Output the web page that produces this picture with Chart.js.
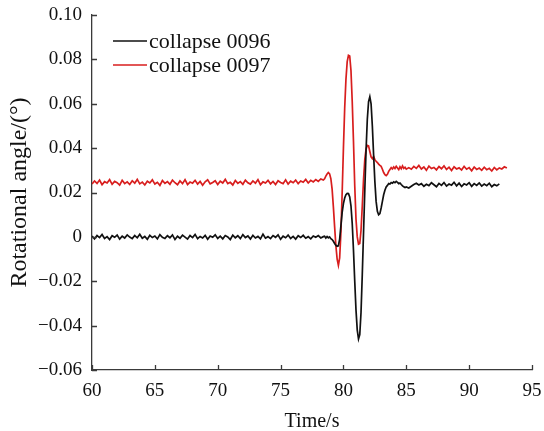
<!DOCTYPE html>
<html>
<head>
<meta charset="utf-8">
<script src="https://cdn.jsdelivr.net/npm/chart.js@4.4.1/dist/chart.umd.min.js"></script>
<style>
  html, body { margin: 0; padding: 0; background: #fff; }
  #wrap { width: 544px; height: 431px; }
</style>
</head>
<body>
<div id="wrap"><canvas id="angleChart"></canvas></div>
<script>
// Time stamps (s), three sampling segments: before, during and after the collapse
var timeA = [60.0, 60.2, 60.4, 60.6, 60.8, 61.0, 61.2, 61.4, 61.6, 61.8,
  62.0, 62.2, 62.4, 62.6, 62.8, 63.0, 63.2, 63.4, 63.6, 63.8,
  64.0, 64.2, 64.4, 64.6, 64.8, 65.0, 65.2, 65.4, 65.6, 65.8,
  66.0, 66.2, 66.4, 66.6, 66.8, 67.0, 67.2, 67.4, 67.6, 67.8,
  68.0, 68.2, 68.4, 68.6, 68.8, 69.0, 69.2, 69.4, 69.6, 69.8,
  70.0, 70.2, 70.4, 70.6, 70.8, 71.0, 71.2, 71.4, 71.6, 71.8,
  72.0, 72.2, 72.4, 72.6, 72.8, 73.0, 73.2, 73.4, 73.6, 73.8,
  74.0, 74.2, 74.4, 74.6, 74.8, 75.0, 75.2, 75.4, 75.6, 75.8,
  76.0, 76.2, 76.4, 76.6, 76.8, 77.0, 77.2, 77.4, 77.6, 77.8,
  78.0, 78.2, 78.4];
var timeB = [78.5, 78.6, 78.7, 78.8, 78.9, 79.0, 79.1, 79.2, 79.3, 79.4,
  79.5, 79.6, 79.7, 79.8, 79.9, 80.0, 80.1, 80.2, 80.3, 80.4,
  80.5, 80.6, 80.7, 80.8, 80.9, 81.0, 81.1, 81.2, 81.3, 81.4,
  81.5, 81.6, 81.7, 81.8, 81.9, 82.0, 82.1, 82.2, 82.3, 82.4,
  82.5, 82.6, 82.7, 82.8, 82.9, 83.0, 83.1, 83.2, 83.3, 83.4,
  83.5, 83.6, 83.7, 83.8, 83.9, 84.0, 84.1, 84.2, 84.3, 84.4,
  84.5, 84.6, 84.7, 84.8, 84.9, 85.0];
var timeC = [85.2, 85.4, 85.6, 85.8, 86.0, 86.2, 86.4, 86.6, 86.8, 87.0,
  87.2, 87.4, 87.6, 87.8, 88.0, 88.2, 88.4, 88.6, 88.8, 89.0,
  89.2, 89.4, 89.6, 89.8, 90.0, 90.2, 90.4, 90.6, 90.8, 91.0,
  91.2, 91.4, 91.6, 91.8, 92.0, 92.2, 92.4, 92.6, 92.8, 93.0];

// collapse 0096 (black)
var black0096A = [0.0004, -0.0009, 0.0006, -0.0003, 0.0011, -0.0007, 0.0001, -0.0012, 0.0005, -0.0002,
  0.0008, -0.0010, 0.0003, -0.0005, 0.0009, -0.0001, -0.0008, 0.0006, -0.0004, 0.0012,
  -0.0006, 0.0002, -0.0011, 0.0007, -0.0003, 0.0004, -0.0009, 0.0010, -0.0002, -0.0007,
  0.0005, -0.0004, 0.0009, -0.0012, 0.0003, -0.0006, 0.0008, -0.0001, -0.0010, 0.0006,
  -0.0003, 0.0011, -0.0008, 0.0002, -0.0005, 0.0007, -0.0011, 0.0004, -0.0002, 0.0009,
  -0.0007, 0.0003, -0.0009, 0.0006, 0.0000, -0.0012, 0.0008, -0.0004, 0.0005, -0.0008,
  0.0010, -0.0003, 0.0004, -0.0010, 0.0007, -0.0005, 0.0002, -0.0009, 0.0012, -0.0006,
  0.0001, -0.0008, 0.0006, -0.0002, 0.0009, -0.0011, 0.0003, -0.0004, 0.0008, -0.0007,
  0.0002, -0.0010, 0.0005, -0.0003, 0.0007, -0.0006, 0.0001, -0.0009, 0.0004, -0.0002,
  0.0006, -0.0005, 0.0001];
var black0096B = [0.0003, -0.0005, 0.0002, -0.0004, 0.0000, -0.0008, -0.0012, -0.0020, -0.0030, -0.0038,
  -0.0042, -0.0040, -0.0010, 0.0050, 0.0110, 0.0150, 0.0175, 0.0190, 0.0196, 0.0195,
  0.0180, 0.0140, 0.0060, -0.0060, -0.0200, -0.0330, -0.0420, -0.0460, -0.0440, -0.0340,
  -0.0170, 0.0020, 0.0210, 0.0390, 0.0530, 0.0610, 0.0632, 0.0600, 0.0500, 0.0370,
  0.0250, 0.0160, 0.0115, 0.0100, 0.0105, 0.0130, 0.0160, 0.0190, 0.0210, 0.0225,
  0.0232, 0.0240, 0.0238, 0.0245, 0.0242, 0.0248, 0.0244, 0.0250, 0.0246, 0.0240,
  0.0243, 0.0236, 0.0230, 0.0226, 0.0222, 0.0225];
var black0096C = [0.0220, 0.0228, 0.0236, 0.0242, 0.0234, 0.0240, 0.0228, 0.0237, 0.0231, 0.0244,
  0.0235, 0.0226, 0.0241, 0.0232, 0.0245, 0.0229, 0.0238, 0.0233, 0.0246, 0.0230,
  0.0242, 0.0227, 0.0239, 0.0234, 0.0244, 0.0228, 0.0240, 0.0232, 0.0243, 0.0229,
  0.0238, 0.0231, 0.0242, 0.0226, 0.0236, 0.0230, 0.0239];

// collapse 0097 (red)
var red0097A = [0.0238, 0.0252, 0.0241, 0.0256, 0.0235, 0.0249, 0.0243, 0.0258, 0.0237, 0.0250,
  0.0244, 0.0233, 0.0255, 0.0240, 0.0248, 0.0236, 0.0253, 0.0242, 0.0259, 0.0239,
  0.0247, 0.0234, 0.0251, 0.0243, 0.0257, 0.0238, 0.0246, 0.0232, 0.0254, 0.0241,
  0.0249, 0.0237, 0.0256, 0.0244, 0.0235, 0.0252, 0.0240, 0.0258, 0.0236, 0.0247,
  0.0242, 0.0255, 0.0238, 0.0250, 0.0233, 0.0248, 0.0257, 0.0239, 0.0245, 0.0253,
  0.0236, 0.0251, 0.0243, 0.0259, 0.0240, 0.0246, 0.0234, 0.0254, 0.0241, 0.0249,
  0.0237, 0.0256, 0.0244, 0.0238, 0.0252, 0.0242, 0.0258, 0.0235, 0.0248, 0.0243,
  0.0255, 0.0239, 0.0250, 0.0236, 0.0253, 0.0245, 0.0240, 0.0257, 0.0238, 0.0251,
  0.0244, 0.0256, 0.0240, 0.0252, 0.0246, 0.0259, 0.0243, 0.0255, 0.0248, 0.0258,
  0.0250, 0.0261, 0.0256];
var red0097B = [0.0262, 0.0274, 0.0283, 0.0290, 0.0284, 0.0262, 0.0215, 0.0135, 0.0045, -0.0040,
  -0.0100, -0.0128, -0.0095, 0.0020, 0.0200, 0.0400, 0.0580, 0.0710, 0.0790, 0.0818,
  0.0815, 0.0750, 0.0610, 0.0430, 0.0230, 0.0080, 0.0000, -0.0033, -0.0030, 0.0030,
  0.0140, 0.0260, 0.0350, 0.0395, 0.0412, 0.0410, 0.0385, 0.0360, 0.0352, 0.0362,
  0.0348, 0.0341, 0.0335, 0.0328, 0.0322, 0.0318, 0.0305, 0.0290, 0.0280, 0.0276,
  0.0282, 0.0295, 0.0304, 0.0312, 0.0306, 0.0315, 0.0308, 0.0318, 0.0310, 0.0303,
  0.0316, 0.0307, 0.0320, 0.0309, 0.0314, 0.0305];
var red0097C = [0.0312, 0.0305, 0.0318, 0.0309, 0.0322, 0.0306, 0.0315, 0.0300, 0.0319, 0.0308,
  0.0313, 0.0302, 0.0317, 0.0307, 0.0320, 0.0304, 0.0314, 0.0299, 0.0316, 0.0306,
  0.0311, 0.0301, 0.0318, 0.0305, 0.0312, 0.0298, 0.0315, 0.0304, 0.0310, 0.0300,
  0.0314, 0.0303, 0.0309, 0.0297, 0.0313, 0.0302, 0.0311, 0.0306, 0.0316, 0.0310];

var seriesLabels = ["collapse 0096", "collapse 0097"];
var xTicks = [60, 65, 70, 75, 80, 85, 90, 95];
var yTicks = [-0.06, -0.04, -0.02, 0, 0.02, 0.04, 0.06, 0.08, 0.10];

function toPoints(times, values) {
  var pts = [];
  for (var i = 0; i < values.length; i++) {
    pts.push({ x: times[i], y: values[i] });
  }
  return pts;
}

var allTime = timeA.concat(timeB, timeC);
var blackData = toPoints(allTime, black0096A.concat(black0096B, black0096C));
var redData = toPoints(allTime, red0097A.concat(red0097B, red0097C));

var serif = "'Liberation Serif', 'Times New Roman', serif";
var axisColor = "#3a3a3a";

// ticks point into the plot, drawn from the scales
var inwardTicks = {
  id: "inwardTicks",
  afterDraw: function (chart) {
    var ctx = chart.ctx;
    var area = chart.chartArea;
    var xs = chart.scales.x;
    var ys = chart.scales.y;
    ctx.save();
    ctx.strokeStyle = axisColor;
    ctx.lineWidth = 1.3;
    ctx.beginPath();
    xTicks.forEach(function (v) {
      var px = Math.round(xs.getPixelForValue(v)) + 0.5;
      ctx.moveTo(px, area.bottom);
      ctx.lineTo(px, area.bottom - 5);
    });
    yTicks.forEach(function (v) {
      var py = Math.round(ys.getPixelForValue(v)) + 0.5;
      ctx.moveTo(area.left, py);
      ctx.lineTo(area.left + 5, py);
    });
    ctx.stroke();
    ctx.restore();
  }
};

// legend inside the plot, top left
var innerLegend = {
  id: "innerLegend",
  afterDraw: function (chart) {
    var ctx = chart.ctx;
    var area = chart.chartArea;
    ctx.save();
    ctx.font = "22px " + serif;
    ctx.textBaseline = "middle";
    ctx.fillStyle = "#111";
    chart.data.datasets.forEach(function (ds, i) {
      var y = area.top + 26 + i * 24;
      ctx.strokeStyle = ds.borderColor;
      ctx.lineWidth = 1.5;
      ctx.beginPath();
      ctx.moveTo(area.left + 21, y);
      ctx.lineTo(area.left + 55, y);
      ctx.stroke();
      ctx.fillText(ds.label, area.left + 57, y + 1);
    });
    ctx.restore();
  }
};

var ctx = document.getElementById("angleChart").getContext("2d");
var angleChart = new Chart(ctx, {
  type: "line",
  data: {
    datasets: [
      {
        label: seriesLabels[0],
        data: blackData,
        borderColor: "#111111",
        borderWidth: 1.7,
        pointRadius: 0,
        tension: 0,
        fill: false
      },
      {
        label: seriesLabels[1],
        data: redData,
        borderColor: "#d81e1e",
        borderWidth: 1.7,
        pointRadius: 0,
        tension: 0,
        fill: false
      }
    ]
  },
  options: {
    responsive: true,
    maintainAspectRatio: false,
    animation: false,
    layout: { padding: { top: 15, right: 12, left: 0, bottom: 0 } },
    plugins: {
      legend: { display: false },
      tooltip: { enabled: false }
    },
    scales: {
      x: {
        type: "linear",
        min: 60,
        max: 95,
        afterFit: function (scale) {
          scale.height = 61;
          scale.paddingLeft = 0;
          scale.paddingRight = 0;
        },
        afterBuildTicks: function (scale) {
          scale.ticks = xTicks.map(function (v) { return { value: v }; });
        },
        grid: { display: false, drawTicks: false },
        border: { display: true, color: axisColor, width: 1.3 },
        ticks: {
          padding: 10,
          color: "#111",
          font: { family: serif, size: 19 },
          maxRotation: 0,
          callback: function (v) { return String(v); }
        },
        title: {
          display: true,
          text: "Time/s",
          color: "#111",
          font: { family: serif, size: 20 },
          padding: { top: 0, bottom: -3 }
        }
      },
      y: {
        min: -0.06,
        max: 0.10,
        afterFit: function (scale) {
          scale.width = 92;
          scale.paddingTop = 0;
          scale.paddingBottom = 0;
        },
        afterBuildTicks: function (scale) {
          scale.ticks = yTicks.map(function (v) { return { value: v }; });
        },
        grid: { display: false, drawTicks: false },
        border: { display: true, color: axisColor, width: 1.3 },
        ticks: {
          padding: 10,
          color: "#111",
          font: { family: serif, size: 19 },
          callback: function (v) {
            if (Math.abs(v) < 1e-9) return "0";
            return v.toFixed(2).replace("-", "\u2212");
          }
        },
        title: {
          display: true,
          text: "Rotational angle/(\u00b0)",
          color: "#111",
          font: { family: serif, size: 24 },
          padding: { top: 5, bottom: 0 }
        }
      }
    }
  },
  plugins: [inwardTicks, innerLegend]
});
</script>
</body>
</html>
